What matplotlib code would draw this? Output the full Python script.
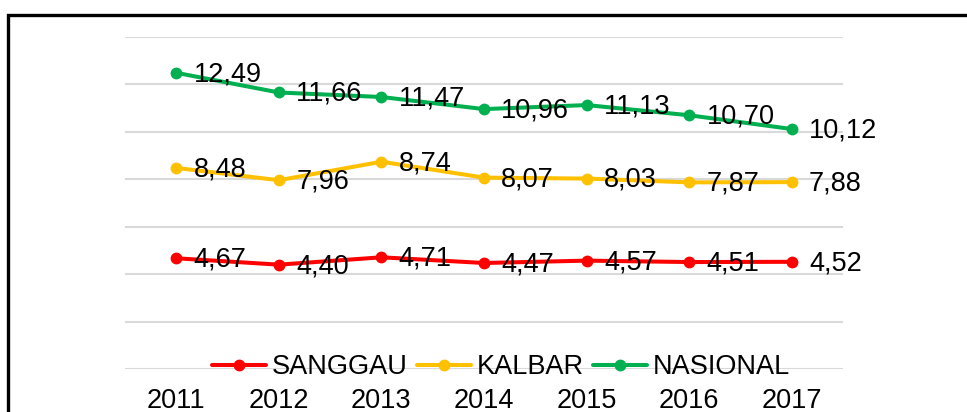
import matplotlib
matplotlib.use("Agg")
import matplotlib.pyplot as plt
from matplotlib.patches import Rectangle

years = ["2011", "2012", "2013", "2014", "2015", "2016", "2017"]
sanggau = [4.67, 4.40, 4.71, 4.47, 4.57, 4.51, 4.52]
kalbar = [8.48, 7.96, 8.74, 8.07, 8.03, 7.87, 7.88]
nasional = [12.49, 11.66, 11.47, 10.96, 11.13, 10.70, 10.12]
series_names = ["SANGGAU", "KALBAR", "NASIONAL"]
colors = ["#FF0000", "#FFC000", "#00B050"]

FS = 19.5
plt.rcParams['font.family'] = ['Liberation Sans', 'DejaVu Sans']
W, H = 967, 412
fig = plt.figure(figsize=(W/100, H/100), dpi=100)
ax = fig.add_axes([125/W, 1-369/H, (843-125)/W, (369-37)/H])

x = list(range(len(years)))
for vals, name, c in zip([sanggau, kalbar, nasional], series_names, colors):
    ax.plot(x, vals, color=c, lw=2.9, marker='o', ms=7.5, label=name, zorder=3,
            solid_capstyle='round')
    for xi, v in zip(x, vals):
        ax.annotate(f"{v:.2f}".replace('.', ','), (xi, v), xytext=(12.5, -1.0),
                    textcoords='offset points', ha='left', va='center',
                    fontsize=FS, color='black', zorder=4)

ax.set_xlim(-0.5, 6.5)
ax.set_ylim(0, 14)
ax.set_yticks(range(0, 15, 2))
ax.yaxis.grid(True, color='#D9D9D9', lw=1.5)
ax.set_axisbelow(True)
ax.tick_params(axis='y', left=False, labelleft=False)
ax.set_xticks(x)
ax.set_xticklabels(years, fontsize=FS)
ax.tick_params(axis='x', length=0, pad=14)
for s in ax.spines.values():
    s.set_visible(False)

leg = fig.legend(loc='center', bbox_to_anchor=(501/W, 1-367/H), ncol=3, frameon=False,
                 fontsize=FS, handlelength=2.0, handletextpad=0.2, columnspacing=0.35,
                 borderpad=0, borderaxespad=0)

fig.patches.append(Rectangle((8/W, -0.1), 1.2, 1 - 14.5/H + 0.1, transform=fig.transFigure,
                             fill=False, edgecolor='black', lw=2.4, zorder=10))

fig.savefig("out.png", dpi=100)
